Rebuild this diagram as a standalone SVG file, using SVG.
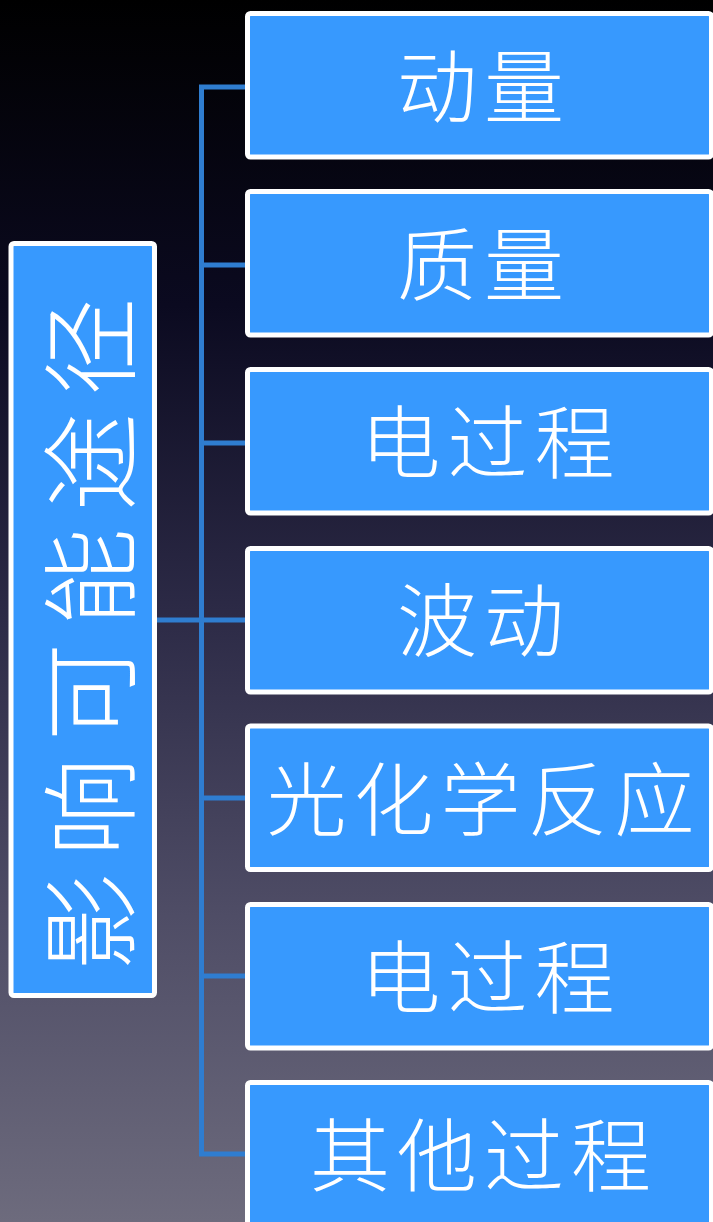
<svg xmlns="http://www.w3.org/2000/svg" width="713" height="1222" viewBox="0 0 713 1222">
  <defs>
    <linearGradient id="bg" x1="0" y1="0" x2="0" y2="1">
      <stop offset="0" stop-color="#000000"/>
      <stop offset="0.25" stop-color="#0b0a20"/>
      <stop offset="0.5" stop-color="#2c2a46"/>
      <stop offset="0.75" stop-color="#4f4d66"/>
      <stop offset="1" stop-color="#6d6b7d"/>
    </linearGradient>
    <style>
      .box { fill: #3799fe; stroke: #ffffff; stroke-width: 5; }
      .lbl { fill: #ffffff; font-family: "Noto Sans CJK SC", "Noto Sans CJK JP", sans-serif; font-weight: 300; font-size: 80px; letter-spacing: 7px; text-anchor: middle; dominant-baseline: central; }
      .big { font-size: 98px; letter-spacing: 17px; }
      .conn { stroke: #2f7dd0; stroke-width: 5; fill: none; }
    </style>
  </defs>
  <rect x="0" y="0" width="713" height="1222" fill="url(#bg)"/>
  <g id="connectors">
    <path class="conn" d="M246 87 H201.5 V1154 H246"/>
    <path class="conn" d="M201.5 265 H246 M201.5 443 H246 M201.5 798 H246 M201.5 976 H246"/>
    <path class="conn" d="M156 620 H246"/>
  </g>
  <g id="root">
    <rect class="box" x="11" y="243.5" width="143.5" height="752" rx="3"/>
    <text class="lbl big" transform="translate(84 626) rotate(-90)">影响可能途径</text>
  </g>
  <g id="n1">
    <rect class="box" x="247.5" y="13.5" width="464" height="143.5" rx="3"/>
    <text class="lbl" x="484" y="81">动量</text>
  </g>
  <g id="n2">
    <rect class="box" x="247.5" y="191.5" width="464" height="143.5" rx="3"/>
    <text class="lbl" x="484" y="259">质量</text>
  </g>
  <g id="n3">
    <rect class="box" x="247.5" y="369.5" width="464" height="143.5" rx="3"/>
    <text class="lbl" x="491" y="437">电过程</text>
  </g>
  <g id="n4">
    <rect class="box" x="247.5" y="548.5" width="464" height="143.5" rx="3"/>
    <text class="lbl" x="484" y="615">波动</text>
  </g>
  <g id="n5">
    <rect class="box" x="247.5" y="726" width="464" height="143.5" rx="3"/>
    <text class="lbl" x="484" y="794">光化学反应</text>
  </g>
  <g id="n6">
    <rect class="box" x="247.5" y="904.5" width="464" height="143.5" rx="3"/>
    <text class="lbl" x="491" y="972">电过程</text>
  </g>
  <g id="n7">
    <rect class="box" x="247.5" y="1082.5" width="464" height="143.5" rx="3"/>
    <text class="lbl" x="484" y="1150">其他过程</text>
  </g>
</svg>
